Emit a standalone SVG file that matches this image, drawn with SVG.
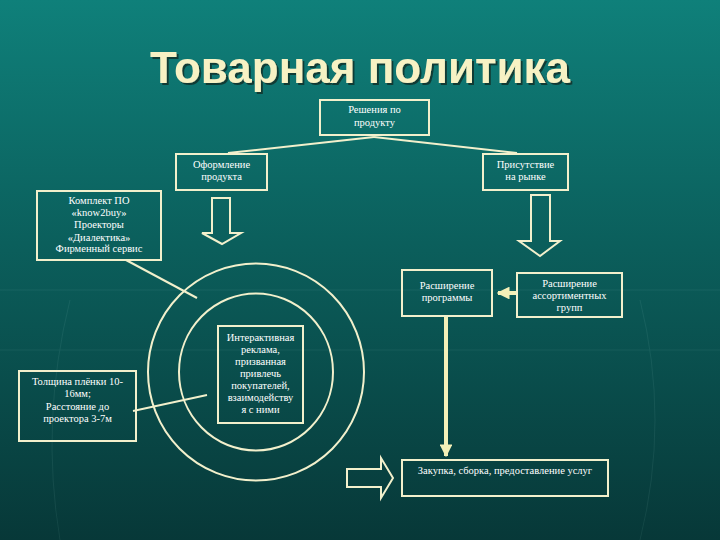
<svg xmlns="http://www.w3.org/2000/svg" width="720" height="540" viewBox="0 0 720 540">
<defs>
<linearGradient id="bg" x1="0" y1="0" x2="0" y2="1">
<stop offset="0" stop-color="#0f807a"/>
<stop offset="0.45" stop-color="#0b5f5c"/>
<stop offset="1" stop-color="#073838"/>
</linearGradient>
<filter id="shadow" x="-5%" y="-20%" width="110%" height="150%">
<feDropShadow dx="2" dy="2" stdDeviation="0.6" flood-color="#14231c" flood-opacity="0.7"/>
</filter>
<marker id="ah" viewBox="0 0 10 10" refX="9" refY="5" markerWidth="3.2" markerHeight="3.2" orient="auto">
<path d="M0,0 L10,5 L0,10 z" fill="#f4f0b8"/>
</marker>
</defs>
<style>
.box{fill:none;stroke:#f2f0cc;stroke-width:2}
.t{font-family:"Liberation Serif","Times New Roman",serif;font-size:10.5px;fill:#ffffff;text-anchor:middle}
.ln{stroke:#f2f0cc;stroke-width:2;fill:none}
.hollow{fill:none;stroke:#f2f0cc;stroke-width:2;stroke-linejoin:miter}
.title{font-family:"Liberation Sans",Arial,sans-serif;font-weight:bold;font-size:44px;text-anchor:middle;fill:#f7f2c4}
</style>
<rect x="0" y="0" width="720" height="540" fill="url(#bg)"/>
<g opacity="0.07" stroke="#bfeee8" stroke-width="1" fill="none">
<path d="M0,290 H720"/>
<path d="M0,350 H720"/>
<path d="M60,540 Q40,420 70,300"/>
<path d="M640,540 Q670,420 640,300"/>
</g>
<g id="title">
<text class="title" x="360" y="83" filter="url(#shadow)">Товарная политика</text>
</g>
<g id="connectors">
<path class="ln" d="M374,137 L228,153"/>
<path class="ln" d="M374,137 L517,153"/>
<path class="ln" d="M126,260 L197,298"/>
<path class="ln" d="M133,411 L207,395"/>
<path d="M517,293 L498,293" stroke="#f4f0b8" stroke-width="4" marker-end="url(#ah)"/>
<path d="M446,316 L446,456" stroke="#f4f0b8" stroke-width="4" marker-end="url(#ah)"/>
<path class="hollow" d="M212,198 H230 V233 H241 L222,244 L202,233 H212 Z"/>
<path class="hollow" d="M531,195 H550 V241 H560 L540,256 L519,241 H531 Z"/>
<path class="hollow" d="M347,469 H381 V458 L393,478 L381,498 V487 H347 Z"/>
</g>
<g id="circles">
<ellipse class="ln" cx="256" cy="372" rx="108" ry="108.5"/>
<ellipse class="ln" cx="256" cy="372" rx="77" ry="78.5"/>
</g>
<g id="n-resheniya">
<rect class="box" x="320" y="100" width="109" height="35"/>
<text class="t" x="374.5" y="113">Решения по</text>
<text class="t" x="374.5" y="126">продукту</text>
</g>
<g id="n-oformlenie">
<rect class="box" x="176" y="154" width="91" height="36"/>
<text class="t" x="221.5" y="168">Оформление</text>
<text class="t" x="221.5" y="180">продукта</text>
</g>
<g id="n-prisutstvie">
<rect class="box" x="483" y="154" width="85" height="36"/>
<text class="t" x="525.5" y="168">Присутствие</text>
<text class="t" x="525.5" y="180">на рынке</text>
</g>
<g id="n-komplekt">
<rect class="box" x="37" y="191" width="124" height="69"/>
<text class="t" x="99" y="204">Комплект ПО</text>
<text class="t" x="99" y="216">«know2buy»</text>
<text class="t" x="99" y="228">Проекторы</text>
<text class="t" x="99" y="241">«Диалектика»</text>
<text class="t" x="99" y="252">Фирменный сервис</text>
</g>
<g id="n-rasshirenie-prog">
<rect class="box" x="402" y="270" width="90" height="46"/>
<text class="t" x="447" y="289">Расширение</text>
<text class="t" x="447" y="301">программы</text>
</g>
<g id="n-rasshirenie-assort">
<rect class="box" x="517" y="273" width="105" height="44"/>
<text class="t" x="569.5" y="287">Расширение</text>
<text class="t" x="569.5" y="299">ассортиментных</text>
<text class="t" x="569.5" y="311">групп</text>
</g>
<g id="n-interaktiv">
<rect class="box" x="218" y="326" width="85" height="97"/>
<text class="t" x="260.5" y="341">Интерактивная</text>
<text class="t" x="260.5" y="353">реклама,</text>
<text class="t" x="260.5" y="365">призванная</text>
<text class="t" x="260.5" y="377">привлечь</text>
<text class="t" x="260.5" y="389">покупателей,</text>
<text class="t" x="260.5" y="401">взаимодейству</text>
<text class="t" x="260.5" y="413">я с ними</text>
</g>
<g id="n-tolshchina">
<rect class="box" x="19" y="371" width="117" height="70"/>
<text class="t" x="77.5" y="385">Толщина плёнки 10-</text>
<text class="t" x="77.5" y="397">16мм;</text>
<text class="t" x="77.5" y="410">Расстояние до</text>
<text class="t" x="77.5" y="422">проектора 3-7м</text>
</g>
<g id="n-zakupka">
<rect class="box" x="402" y="460" width="206" height="36"/>
<text class="t" x="505" y="474">Закупка, сборка, предоставление услуг</text>
</g>
</svg>
